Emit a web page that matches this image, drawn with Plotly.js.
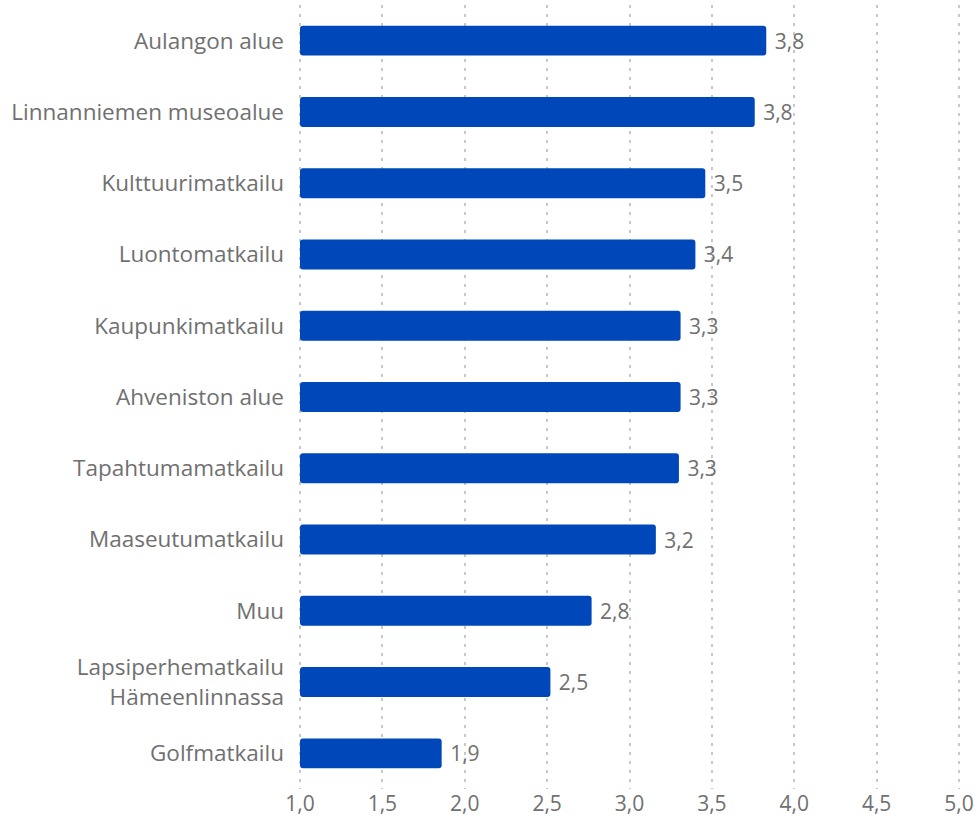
<!DOCTYPE html>
<html>
<head>
<meta charset="utf-8">
<script src="https://cdn.plot.ly/plotly-3.0.1.min.js"></script>
<style>html,body{margin:0;padding:0;background:#fff;}#chart{width:979px;height:816px;}</style>
</head>
<body>
<div id="chart"></div>
<script>
var categories = [
  "Aulangon alue",
  "Linnanniemen museoalue",
  "Kulttuurimatkailu",
  "Luontomatkailu",
  "Kaupunkimatkailu",
  "Ahveniston alue",
  "Tapahtumamatkailu",
  "Maaseutumatkailu",
  "Muu",
  "Lapsiperhematkailu<br>Hämeenlinnassa",
  "Golfmatkailu"
];
var values = [3.83, 3.76, 3.46, 3.40, 3.31, 3.31, 3.30, 3.16, 2.77, 2.52, 1.86];
var tickVals = [1, 1.5, 2, 2.5, 3, 3.5, 4, 4.5, 5];
var tickText = ["1,0", "1,5", "2,0", "2,5", "3,0", "3,5", "4,0", "4,5", "5,0"];

var trace = {
  type: "bar",
  orientation: "h",
  y: categories,
  x: values.map(function (v) { return v - 1; }),
  base: 1,
  customdata: values,
  marker: { color: "#0047BA", cornerradius: 3 },
  texttemplate: "\u00a0%{customdata:.1f}",
  textposition: "outside",
  cliponaxis: false,
  textfont: { family: "Open Sans", size: 21, color: "#707070" },
  hoverinfo: "none"
};

var layout = {
  width: 979,
  height: 816,
  margin: { l: 298, r: 18, t: 5, b: 27 },
  paper_bgcolor: "#ffffff",
  plot_bgcolor: "#ffffff",
  separators: ", ",
  bargap: 0.58,
  showlegend: false,
  font: { family: "Open Sans", size: 21, color: "#707070" },
  xaxis: {
    range: [0.988, 5.012],
    tickvals: tickVals,
    ticktext: tickText,
    showgrid: true,
    gridcolor: "#c8c8c8",
    gridwidth: 2,
    griddash: "3px,6px",
    zeroline: false,
    showline: false,
    ticks: "",
    tickfont: { family: "Open Sans", size: 21, color: "#707070" },
    fixedrange: true
  },
  yaxis: {
    type: "category",
    autorange: "reversed",
    showgrid: false,
    zeroline: false,
    showline: false,
    ticks: "",
    ticklabelstandoff: 13,
    tickfont: { family: "Open Sans", size: 22.5, color: "#707070" },
    fixedrange: true
  }
};

Plotly.newPlot("chart", [trace], layout, { displayModeBar: false, staticPlot: true });
</script>
</body>
</html>
